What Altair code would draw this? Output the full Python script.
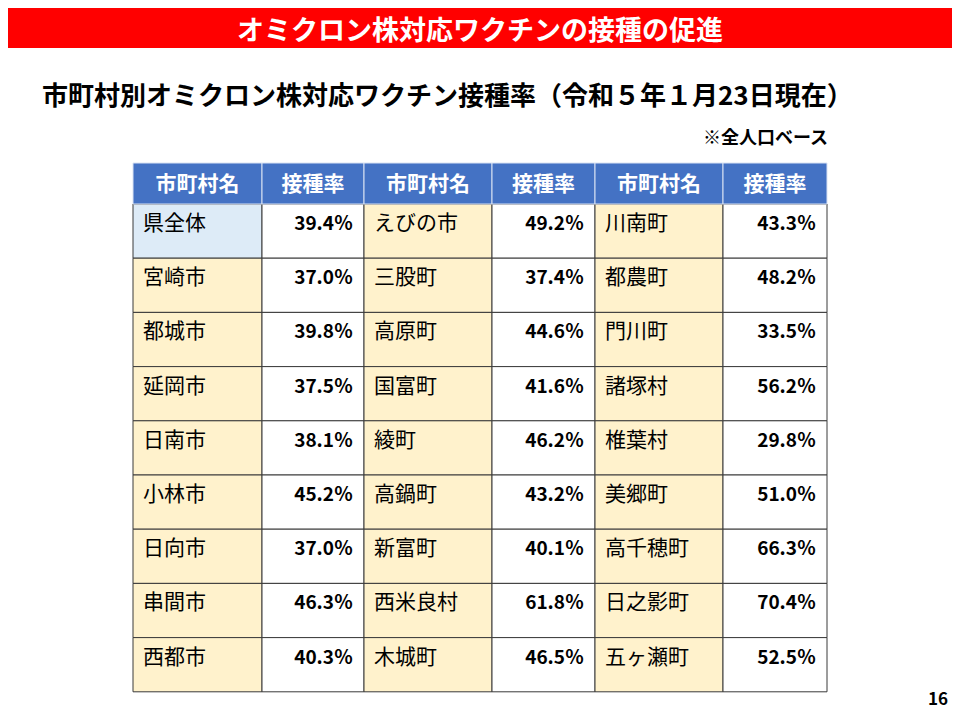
import altair as alt
import pandas as pd

# ---- data ----
header_labels = ["市町村名", "接種率", "市町村名", "接種率", "市町村名", "接種率"]
names1 = ["県全体", "宮崎市", "都城市", "延岡市", "日南市", "小林市", "日向市", "串間市", "西都市"]
rates1 = [39.4, 37.0, 39.8, 37.5, 38.1, 45.2, 37.0, 46.3, 40.3]
names2 = ["えびの市", "三股町", "高原町", "国富町", "綾町", "高鍋町", "新富町", "西米良村", "木城町"]
rates2 = [49.2, 37.4, 44.6, 41.6, 46.2, 43.2, 40.1, 61.8, 46.5]
names3 = ["川南町", "都農町", "門川町", "諸塚村", "椎葉村", "美郷町", "高千穂町", "日之影町", "五ヶ瀬町"]
rates3 = [43.3, 48.2, 33.5, 56.2, 29.8, 51.0, 66.3, 70.4, 52.5]

banner_title = "オミクロン株対応ワクチンの接種の促進"
subtitle = "市町村別オミクロン株対応ワクチン接種率（令和５年１月23日現在）"
note = "※全人口ベース"
page_no = "16"

# ---- layout (page pixel units) ----
FONT = "Noto Sans CJK JP"
W, H = 944, 704
TABLE_X0 = 133
COL_W = [129, 102, 128, 103, 128, 104]
HEAD_Y0, HEAD_H = 163, 41
ROW_H = 54.2

col_edges = [TABLE_X0]
for w in COL_W:
    col_edges.append(col_edges[-1] + w)

# header cells
head_rows = []
for c, lab in enumerate(header_labels):
    head_rows.append(dict(x=col_edges[c], x2=col_edges[c + 1], y=HEAD_Y0, y2=HEAD_Y0 + HEAD_H,
                          tx=(col_edges[c] + col_edges[c + 1]) / 2, ty=HEAD_Y0 + HEAD_H / 2 + 1,
                          label=lab))
head_df = pd.DataFrame(head_rows)

# body cells
body_rows = []
groups = [(names1, rates1), (names2, rates2), (names3, rates3)]
for g, (names, rates) in enumerate(groups):
    for r, (nm, rt) in enumerate(zip(names, rates)):
        y0 = HEAD_Y0 + HEAD_H + r * ROW_H
        y1 = y0 + ROW_H
        cn, cv = 2 * g, 2 * g + 1
        fill = "#DDEBF7" if (g == 0 and r == 0) else "#FFF2CC"
        body_rows.append(dict(x=col_edges[cn], x2=col_edges[cn + 1], y=y0, y2=y1, fill=fill,
                              kind="name", label=nm, tx=col_edges[cn] + 10, ty=y0 + 20))
        body_rows.append(dict(x=col_edges[cv], x2=col_edges[cv + 1], y=y0, y2=y1, fill="#FFFFFF",
                              kind="value", label=f"{rt:.1f}％", tx=col_edges[cv + 1] - 11, ty=y0 + 20))
body_df = pd.DataFrame(body_rows)

xs = alt.Scale(domain=[8, 8 + W], nice=False, zero=False)
ys = alt.Scale(domain=[8, 8 + H], nice=False, zero=False, reverse=True)

# ---- layers ----
banner = alt.Chart(pd.DataFrame({"a": [0]})).mark_rect(color="#FF0000").encode(
    x=alt.value(0), x2=alt.value(W), y=alt.value(0), y2=alt.value(40))
banner_text = alt.Chart(pd.DataFrame({"t": [banner_title]})).mark_text(
    font=FONT, fontSize=27, fontWeight="bold", color="#FFFFFF", align="center", baseline="alphabetic"
).encode(text="t:N", x=alt.value(472), y=alt.value(31.5))
sub_text = alt.Chart(pd.DataFrame({"t": [subtitle]})).mark_text(
    font=FONT, fontSize=26, fontWeight="bold", color="#000000", align="left", baseline="middle"
).encode(text="t:N", x=alt.value(34), y=alt.value(89))
note_text = alt.Chart(pd.DataFrame({"t": [note]})).mark_text(
    font=FONT, fontSize=18, fontWeight="bold", color="#000000", align="right", baseline="middle"
).encode(text="t:N", x=alt.value(820), y=alt.value(131))
page_text = alt.Chart(pd.DataFrame({"t": [page_no]})).mark_text(
    font=FONT, fontSize=17, fontWeight="bold", color="#000000", align="right", baseline="middle"
).encode(text="t:N", x=alt.value(940), y=alt.value(692))

head_rect = alt.Chart(head_df).mark_rect(fill="#4472C4", stroke="#D9E2F3", strokeWidth=1).encode(
    x=alt.X("x:Q", scale=xs, axis=None), x2="x2:Q",
    y=alt.Y("y:Q", scale=ys, axis=None), y2="y2:Q")
head_txt = alt.Chart(head_df).mark_text(
    font=FONT, fontSize=21, fontWeight="bold", color="#FFFFFF", align="center", baseline="middle"
).encode(x=alt.X("tx:Q", scale=xs, axis=None), y=alt.Y("ty:Q", scale=ys, axis=None), text="label:N")

body_rect = alt.Chart(body_df).mark_rect(stroke="#3A3A3A", strokeWidth=1).encode(
    x=alt.X("x:Q", scale=xs, axis=None), x2="x2:Q",
    y=alt.Y("y:Q", scale=ys, axis=None), y2="y2:Q",
    fill=alt.Fill("fill:N", scale=None))
name_txt = alt.Chart(body_df).transform_filter(alt.datum.kind == "name").mark_text(
    font=FONT, fontSize=21, fontWeight="normal", color="#000000", align="left", baseline="middle"
).encode(x=alt.X("tx:Q", scale=xs, axis=None), y=alt.Y("ty:Q", scale=ys, axis=None), text="label:N")
val_txt = alt.Chart(body_df).transform_filter(alt.datum.kind == "value").mark_text(
    font=FONT, fontSize=19, fontWeight="bold", color="#000000", align="right", baseline="middle"
).encode(x=alt.X("tx:Q", scale=xs, axis=None), y=alt.Y("ty:Q", scale=ys, axis=None), text="label:N")

chart = alt.layer(
    banner, banner_text, sub_text, note_text, page_text,
    body_rect, head_rect, head_txt, name_txt, val_txt
).properties(
    width=W, height=H, padding=0,
    autosize=alt.AutoSizeParams(type="none"),
    background="#FFFFFF"
).configure_view(stroke=None)

chart.save("out.html", embed_options={"renderer": "svg", "actions": False})
